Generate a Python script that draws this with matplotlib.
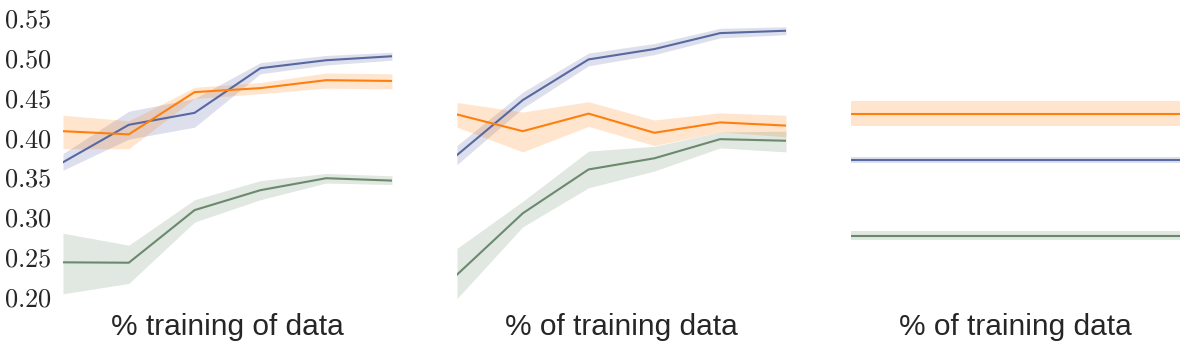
import matplotlib
matplotlib.use("Agg")
import matplotlib.pyplot as plt

plt.rcParams["mathtext.fontset"] = "cm"
plt.rcParams["font.family"] = ["Liberation Sans", "DejaVu Sans"]

steps = [1, 2, 3, 4, 5, 6]
xlabels = ["% training of data", "% of training data", "% of training data"]
yticks = [0.20, 0.25, 0.30, 0.35, 0.40, 0.45, 0.50, 0.55]

# panel 1
p1_blue = [0.369, 0.416, 0.431, 0.487, 0.497, 0.502]
p1_blue_lo = [0.359, 0.398, 0.413, 0.480, 0.491, 0.497]
p1_blue_hi = [0.380, 0.433, 0.449, 0.494, 0.503, 0.507]
p1_orange = [0.408, 0.404, 0.457, 0.462, 0.472, 0.471]
p1_orange_lo = [0.386, 0.386, 0.449, 0.455, 0.462, 0.461]
p1_orange_hi = [0.428, 0.421, 0.463, 0.469, 0.481, 0.480]
p1_green = [0.2435, 0.243, 0.309, 0.334, 0.349, 0.346]
p1_green_lo = [0.204, 0.217, 0.294, 0.322, 0.343, 0.341]
p1_green_hi = [0.280, 0.265, 0.322, 0.346, 0.355, 0.352]

# panel 2
p2_blue = [0.378, 0.447, 0.498, 0.511, 0.531, 0.534]
p2_blue_lo = [0.366, 0.437, 0.490, 0.504, 0.525, 0.529]
p2_blue_hi = [0.390, 0.457, 0.506, 0.518, 0.537, 0.539]
p2_orange = [0.429, 0.408, 0.430, 0.406, 0.419, 0.415]
p2_orange_lo = [0.413, 0.382, 0.414, 0.390, 0.407, 0.401]
p2_orange_hi = [0.444, 0.432, 0.445, 0.422, 0.431, 0.428]
p2_green = [0.228, 0.305, 0.360, 0.374, 0.398, 0.396]
p2_green_lo = [0.198, 0.288, 0.337, 0.358, 0.387, 0.382]
p2_green_hi = [0.261, 0.320, 0.383, 0.389, 0.407, 0.408]

# panel 3
p3_blue = [0.372] * 6
p3_blue_lo = [0.368] * 6
p3_blue_hi = [0.376] * 6
p3_orange = [0.430] * 6
p3_orange_lo = [0.414] * 6
p3_orange_hi = [0.446] * 6
p3_green = [0.2765] * 6
p3_green_lo = [0.2715] * 6
p3_green_hi = [0.283] * 6

panels = [
    [(p1_blue, p1_blue_lo, p1_blue_hi), (p1_orange, p1_orange_lo, p1_orange_hi), (p1_green, p1_green_lo, p1_green_hi)],
    [(p2_blue, p2_blue_lo, p2_blue_hi), (p2_orange, p2_orange_lo, p2_orange_hi), (p2_green, p2_green_lo, p2_green_hi)],
    [(p3_blue, p3_blue_lo, p3_blue_hi), (p3_orange, p3_orange_lo, p3_orange_hi), (p3_green, p3_green_lo, p3_green_hi)],
]
colors = ["#5868a0", "#ff7f0e", "#6b8a6d"]

fig = plt.figure(figsize=(11.86, 3.47), dpi=100)
lefts = [0.0531, 0.3853, 0.7175]
for i, left in enumerate(lefts):
    ax = fig.add_axes([left, 0.1326, 0.2774, 0.8271])
    for (mid, lo, hi), c in zip(panels[i], colors):
        ax.fill_between(steps, lo, hi, color=c, alpha=0.2, lw=0)
        ax.plot(steps, mid, color=c, lw=1.5)
    ax.set_xlim(1, 6)
    ax.set_ylim(0.195, 0.555)
    ax.set_xticks([])
    ax.set_yticks(yticks)
    if i == 0:
        ax.set_yticklabels(["$%.2f$" % t for t in yticks], fontsize=19, color="#262626")
    else:
        ax.set_yticklabels([])
    ax.tick_params(axis="y", length=0, pad=8)
    for s in ax.spines.values():
        s.set_visible(False)
    ax.set_xlabel(xlabels[i], fontsize=21.5, color="#262626", labelpad=9)

plt.savefig("out.png", dpi=100)
